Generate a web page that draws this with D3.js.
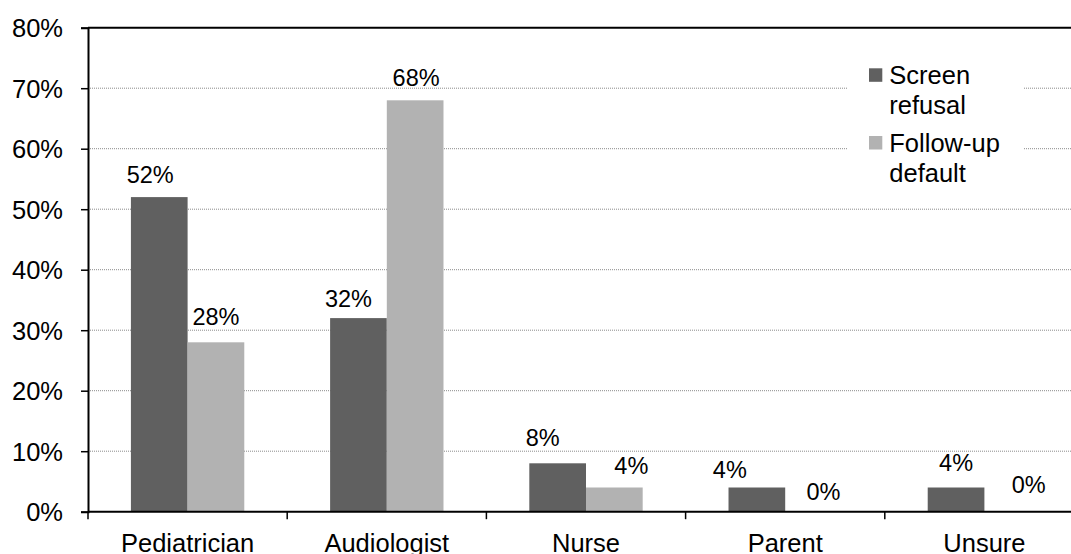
<!DOCTYPE html>
<html>
<head>
<meta charset="utf-8">
<script src="https://cdn.jsdelivr.net/npm/d3@7"></script>
<style>
  html, body { margin: 0; padding: 0; background: #fff; }
  svg { display: block; font-family: "Liberation Sans", Arial, sans-serif; }
</style>
</head>
<body>
<svg id="chart" width="1071" height="554"></svg>
<script>
// Who is responsible: share of screen refusals and follow-up defaults
const categories = ["Pediatrician", "Audiologist", "Nurse", "Parent", "Unsure"];
const seriesNames = ["Screen refusal", "Follow-up default"];
const screenRefusal = [0.52, 0.32, 0.08, 0.04, 0.04];
const followUpDefault = [0.28, 0.68, 0.04, 0.00, 0.00];
const yTicks = [0, 0.1, 0.2, 0.3, 0.4, 0.5, 0.6, 0.7, 0.8];

const seriesValues = [screenRefusal, followUpDefault];
const colors = ["#606060", "#b2b2b2"];

// Hand-placed data label nudges [dx, dy] (px) per series, per category
const labelNudge = [
  [[-9, -2], [-10, 1], [-15, -5], [-27, 2], [0, -5]],
  [[0, -5], [1, -2], [17, -2], [10, 0], [16, -7]]
];

const svg = d3.select("#chart");
const plotLeft = 88, plotTop = 27.7, plotBottom = 511.7;
const catStep = 199.2;
const plotRight = plotLeft + catStep * categories.length;

const x = d3.scaleBand().domain(categories).range([plotLeft, plotRight]).padding(0);
const xs = d3.scaleBand().domain(d3.range(seriesNames.length))
  .range([0, x.bandwidth()]).paddingInner(0).paddingOuter(0.757);
const y = d3.scaleLinear().domain([0, 0.8]).range([plotBottom, plotTop]);
const pct = d3.format(".0%");

// Dotted horizontal gridlines
svg.append("g")
  .selectAll("line")
  .data(yTicks.filter(t => t > 0 && t < 0.8))
  .join("line")
  .attr("x1", plotLeft).attr("x2", plotRight)
  .attr("y1", d => y(d)).attr("y2", d => y(d))
  .attr("stroke", "#8a8a8a")
  .attr("stroke-width", 1)
  .attr("stroke-dasharray", "1,1");

// Solid line along the top of the plot area
svg.append("line")
  .attr("x1", plotLeft).attr("x2", plotRight)
  .attr("y1", y(0.8)).attr("y2", y(0.8))
  .attr("stroke", "#000").attr("stroke-width", 2);

// Bars
const groups = svg.append("g")
  .selectAll("g")
  .data(seriesNames.map((name, i) => ({ name, i, values: seriesValues[i] })))
  .join("g")
  .attr("fill", d => colors[d.i]);

groups.selectAll("rect")
  .data(d => d.values.map((v, j) => ({ v, j, s: d.i })))
  .join("rect")
  .attr("x", d => x(categories[d.j]) + xs(d.s))
  .attr("width", xs.bandwidth())
  .attr("y", d => y(d.v))
  .attr("height", d => y(0) - y(d.v));

// Data labels
groups.selectAll("text")
  .data(d => d.values.map((v, j) => ({ v, j, s: d.i })))
  .join("text")
  .attr("x", d => x(categories[d.j]) + xs(d.s) + xs.bandwidth() / 2 + labelNudge[d.s][d.j][0])
  .attr("y", d => y(d.v) - 12 + labelNudge[d.s][d.j][1])
  .attr("text-anchor", "middle")
  .attr("fill", "#000")
  .attr("font-size", "23.5px")
  .text(d => pct(d.v));

// Y axis
const yAxis = d3.axisLeft(y).tickValues(yTicks).tickFormat(pct)
  .tickSize(7).tickPadding(18);
const gy = svg.append("g").attr("transform", `translate(${plotLeft},0)`).call(yAxis);
gy.select(".domain").attr("stroke", "#000").attr("stroke-width", 2);
gy.selectAll(".tick line").attr("stroke", "#000").attr("stroke-width", 1.5);
gy.selectAll(".tick text")
  .attr("font-size", "25.5px")
  .attr("font-family", "Liberation Sans, Arial, sans-serif")
  .attr("fill", "#000")
  .attr("dy", "0.35em");

// X axis: tick marks at category boundaries, labels centred in each band
const boundaries = d3.range(categories.length + 1).map(i => plotLeft + i * catStep);
svg.append("line")
  .attr("x1", plotLeft).attr("x2", plotRight)
  .attr("y1", plotBottom).attr("y2", plotBottom)
  .attr("stroke", "#000").attr("stroke-width", 2);
svg.append("g")
  .selectAll("line")
  .data(boundaries)
  .join("line")
  .attr("x1", d => d).attr("x2", d => d)
  .attr("y1", plotBottom).attr("y2", plotBottom + 7.5)
  .attr("stroke", "#000").attr("stroke-width", 1.5);
svg.append("g")
  .selectAll("text")
  .data(categories)
  .join("text")
  .attr("x", d => x(d) + x.bandwidth() / 2)
  .attr("y", 551.7)
  .attr("text-anchor", "middle")
  .attr("font-size", "25.5px")
  .attr("fill", "#000")
  .text(d => d);

// Legend
const legend = svg.append("g");
legend.append("rect")
  .attr("x", 847).attr("y", 55).attr("width", 176).attr("height", 135)
  .attr("fill", "#fff");
const legendLines = [["Screen", "refusal"], ["Follow-up", "default"]];
const legendItem = legend.selectAll("g.item")
  .data(seriesNames.map((n, i) => ({ n, i })))
  .join("g")
  .attr("class", "item")
  .attr("transform", d => `translate(869, ${68.3 + d.i * 67.7})`);
legendItem.append("rect")
  .attr("width", 13.3).attr("height", 13.5)
  .attr("fill", d => colors[d.i]);
legendItem.append("text")
  .attr("x", 20.3)
  .attr("font-size", "25.5px")
  .attr("fill", "#000")
  .selectAll("tspan")
  .data(d => legendLines[d.i])
  .join("tspan")
  .attr("x", 20.3)
  .attr("y", (d, k) => 16 + k * 29.7)
  .text(d => d);
</script>
</body>
</html>
